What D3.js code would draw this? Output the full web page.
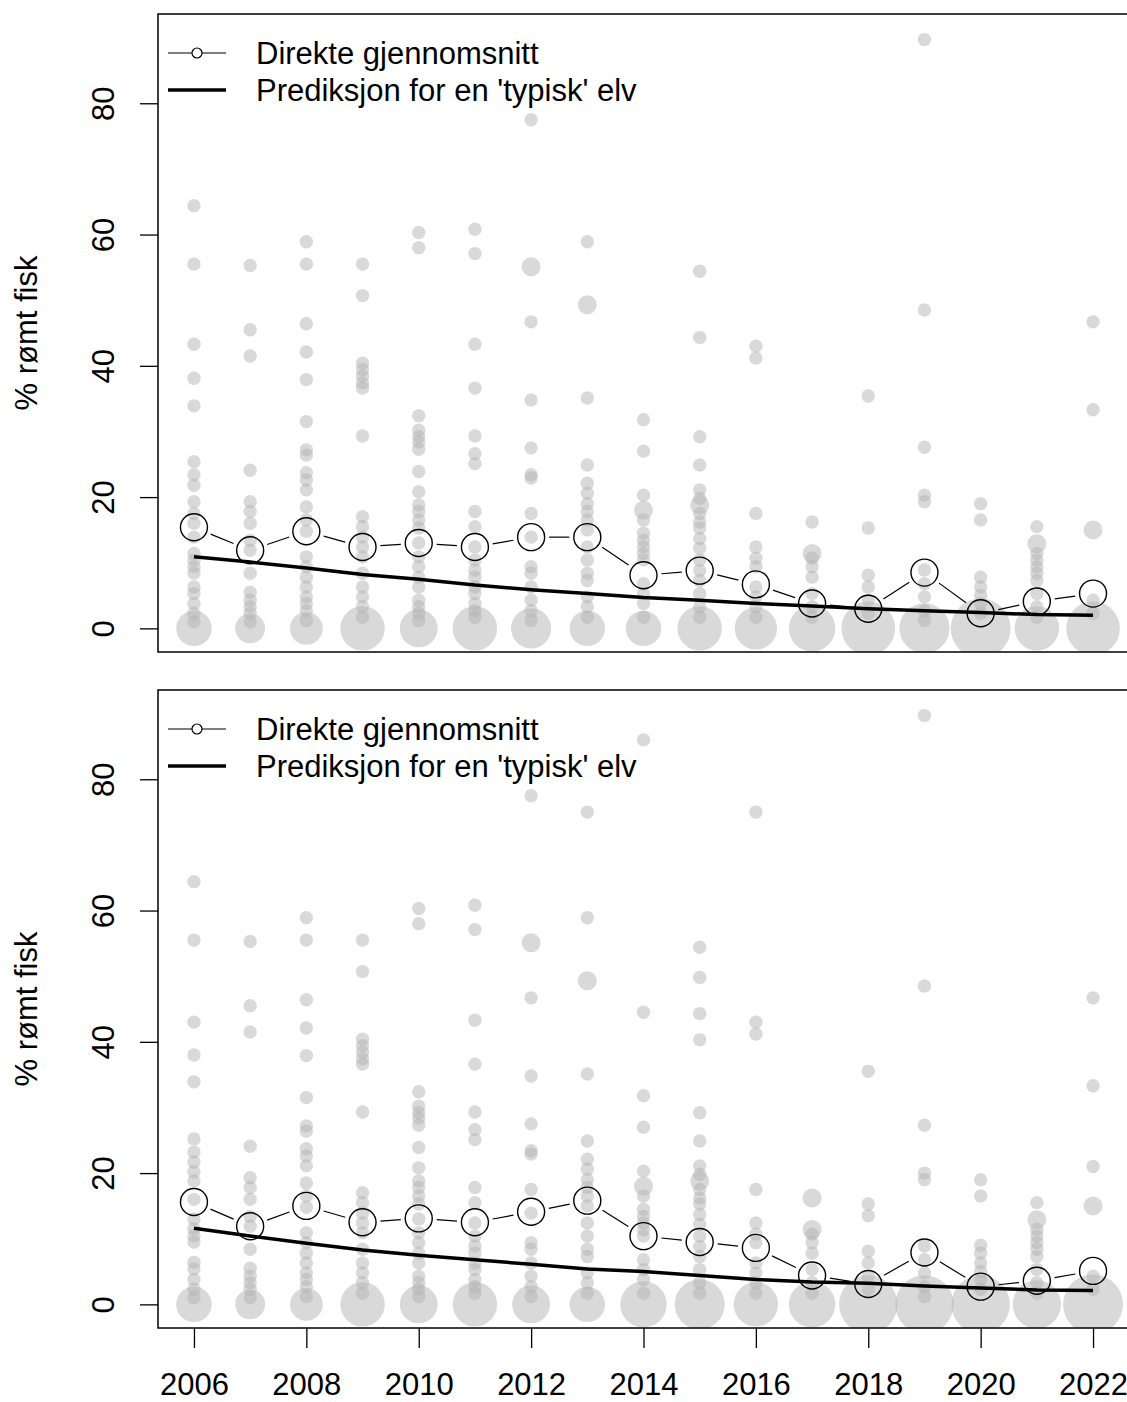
<!DOCTYPE html>
<html>
<head>
<meta charset="utf-8">
<script src="https://cdn.jsdelivr.net/npm/d3@7"></script>
<style>
  body { margin: 0; background: #fff; }
  text { font-family: "Liberation Sans", Arial, sans-serif; fill: #000; }
</style>
</head>
<body>
<div id="chart"></div>
<script>
// ---- data ----
var years = [2006, 2007, 2008, 2009, 2010, 2011, 2012, 2013, 2014, 2015, 2016, 2017, 2018, 2019, 2020, 2021, 2022];
var xTicks = [2006, 2008, 2010, 2012, 2014, 2016, 2018, 2020, 2022];
var yTicks = [0, 20, 40, 60, 80];
var yLabel = "% rømt fisk";
var legendLabels = ["Direkte gjennomsnitt", "Prediksjon for en 'typisk' elv"];

// top panel
var topMean = [15.4, 11.9, 14.8, 12.4, 13.0, 12.4, 13.9, 13.9, 8.1, 8.8, 6.7, 3.8, 3.0, 8.5, 2.3, 4.1, 5.3];
var topPred = [10.9, 10.1, 9.2, 8.2, 7.5, 6.6, 5.9, 5.3, 4.7, 4.3, 3.8, 3.4, 3.0, 2.7, 2.4, 2.1, 2.0];
var topZeros = [7, 5, 6, 11, 8, 11, 9, 7, 7, 11, 10, 12, 16, 14, 20, 11, 16];
var topObs = [
  [64.4, 55.5, 43.3, 38.1, 33.9, 25.4, 23.4, 21.8, 19.3, 17.5, 16.0, 13.9, 11.4, 10.4, 9.4, 8.4, 6.3, 5.3, 3.8, 2.3, 1.0],
  [55.3, 45.5, 41.5, 24.1, 19.3, 17.8, 16.0, 13.4, 11.9, 8.4, 5.5, 4.3, 3.3, 2.3, 1.0],
  [58.9, 55.5, 46.4, 42.1, 37.9, 31.5, 27.2, 26.4, 23.7, 22.6, 21.1, 18.5, 16.5, 14.8, 10.9, 9.4, 7.8, 6.3, 4.8, 3.8, 2.7, 1.2],
  [55.5, 50.7, 40.4, 39.4, 38.4, 37.4, 36.6, 29.3, 17.0, 15.5, 13.9, 12.4, 10.9, 8.4, 6.3, 4.8, 3.3, 1.7],
  [60.3, 58.0, 32.4, 30.2, 29.2, 28.4, 27.3, 23.9, 20.8, 18.8, 17.8, 16.5, 15.3, 13.0, 10.9, 9.4, 7.8, 6.3, 4.3, 3.3, 2.3, 1.2],
  [60.8, 57.1, 43.3, 36.6, 29.3, 26.6, 25.1, 17.8, 15.5, 12.4, 10.4, 8.9, 7.8, 6.3, 5.3, 3.8, 2.7, 1.7],
  [77.5, 55.1, 55.1, 46.7, 34.8, 27.5, 23.4, 22.9, 17.5, 13.9, 9.4, 8.4, 6.3, 4.3, 2.7, 1.2],
  [58.9, 49.3, 49.3, 35.1, 24.9, 22.1, 20.6, 19.0, 17.8, 16.5, 15.0, 12.4, 10.4, 8.4, 7.3, 4.8, 3.3, 1.7],
  [31.8, 27.0, 20.3, 18.0, 18.0, 16.5, 14.5, 13.4, 12.4, 11.4, 10.4, 6.8, 5.3, 3.8, 1.7],
  [54.4, 44.3, 29.2, 24.9, 21.1, 19.8, 18.8, 18.8, 17.5, 16.2, 15.3, 13.7, 12.2, 10.4, 8.8, 7.3, 5.3, 3.3, 1.7],
  [43.0, 41.2, 17.5, 12.4, 10.7, 9.4, 6.3, 4.8, 3.3, 1.7],
  [16.2, 11.4, 11.4, 10.7, 9.4, 7.8, 5.3, 3.3, 1.7],
  [35.4, 15.3, 8.1, 6.3, 4.3, 2.3],
  [89.7, 48.5, 27.6, 20.3, 19.3, 8.9, 6.8, 4.8, 2.7, 1.2],
  [19.0, 16.5, 7.8, 6.3, 5.0, 3.8, 2.3],
  [15.5, 12.9, 12.9, 11.4, 10.4, 9.4, 8.4, 7.3, 5.3, 3.3, 1.7],
  [46.7, 33.3, 15.0, 15.0, 4.3, 2.3]
];

// bottom panel
var botMean = [15.6, 11.9, 15.0, 12.5, 13.1, 12.5, 14.1, 15.8, 10.4, 9.5, 8.6, 4.4, 3.1, 7.9, 2.7, 3.6, 5.1];
var botPred = [11.6, 10.4, 9.3, 8.3, 7.5, 6.8, 6.1, 5.4, 5.0, 4.4, 3.8, 3.4, 3.2, 2.8, 2.5, 2.2, 2.1];
var botZeros = [7, 5, 6, 11, 8, 11, 8, 7, 12, 14, 11, 12, 19, 19, 19, 13, 20];
var botObs = [
  [64.4, 55.5, 43.0, 38.0, 33.9, 25.2, 23.2, 21.7, 20.2, 18.8, 16.0, 13.0, 11.5, 10.4, 9.5, 6.4, 5.4, 3.8, 2.3, 1.0],
  [55.3, 45.5, 41.5, 24.1, 19.3, 17.8, 16.0, 13.4, 11.9, 8.4, 5.5, 4.3, 3.3, 2.3, 1.0],
  [58.9, 55.5, 46.4, 42.1, 37.9, 31.5, 27.2, 26.4, 23.7, 22.6, 21.1, 18.5, 16.5, 14.8, 10.9, 9.4, 7.8, 6.3, 4.8, 3.8, 2.7, 1.2],
  [55.5, 50.7, 40.4, 39.4, 38.4, 37.4, 36.6, 29.3, 17.0, 15.5, 13.9, 12.4, 10.9, 8.4, 6.3, 4.8, 3.3, 1.7],
  [60.3, 58.0, 32.4, 30.2, 29.2, 28.4, 27.3, 23.9, 20.8, 18.8, 17.8, 16.5, 15.3, 13.0, 10.9, 9.4, 7.8, 6.3, 4.3, 3.3, 2.3, 1.2],
  [60.8, 57.1, 43.3, 36.6, 29.3, 26.6, 25.1, 17.8, 15.5, 12.4, 10.4, 8.9, 7.8, 6.3, 5.3, 3.8, 2.7, 1.7],
  [77.5, 55.1, 55.1, 46.7, 34.8, 27.5, 23.4, 22.9, 17.5, 13.9, 9.4, 8.4, 6.3, 4.3, 2.7, 1.2],
  [75.0, 58.9, 49.3, 49.3, 35.1, 24.9, 22.1, 20.6, 19.0, 17.8, 16.5, 15.0, 12.4, 10.4, 8.4, 7.3, 4.8, 3.3, 1.7],
  [86.0, 44.5, 31.8, 27.0, 20.3, 18.0, 18.0, 16.5, 14.5, 13.4, 12.4, 11.4, 10.4, 6.8, 5.3, 3.8, 1.7],
  [54.4, 49.8, 44.3, 40.3, 29.2, 24.9, 21.1, 19.8, 18.8, 18.8, 17.5, 16.2, 15.3, 13.7, 12.2, 10.4, 8.8, 7.3, 5.3, 3.3, 1.7],
  [75.0, 43.0, 41.2, 17.5, 12.4, 10.7, 9.4, 6.3, 4.8, 3.3, 1.7],
  [16.2, 16.2, 11.4, 11.4, 10.7, 9.4, 7.8, 5.3, 3.3, 1.7],
  [35.5, 15.3, 13.5, 8.1, 6.3, 4.3, 2.3],
  [89.7, 48.5, 27.3, 20.0, 19.0, 8.9, 6.8, 4.8, 2.7, 1.2],
  [19.0, 16.5, 9.0, 7.8, 6.3, 5.0, 3.8, 2.3],
  [15.5, 12.9, 12.9, 11.4, 10.4, 9.4, 8.4, 7.3, 5.3, 3.3, 1.7],
  [46.7, 33.3, 21.0, 15.0, 15.0, 4.3, 2.3]
];

// ---- layout ----
var svgWidth = 1127;
var svgHeight = 1402;
var boxLeft = 158, boxRight = 1129;
var fontSize = 31;

var panels = [
  { top: 14, bottom: 652, mean: topMean, pred: topPred, zeros: topZeros, obs: topObs, xAxis: false },
  { top: 690, bottom: 1328, mean: botMean, pred: botPred, zeros: botZeros, obs: botObs, xAxis: true }
];

var svg = d3.select("#chart")
  .append("svg")
  .attr("width", svgWidth)
  .attr("height", svgHeight);

var x = d3.scaleLinear()
  .domain([2005.36, 2022.64])
  .range([boxLeft, boxRight]);

// point radius grows with number of rivers sharing the value
var rScale = d3.scaleSqrt().domain([0, 1]).range([0, 6.7]);

panels.forEach(function(p, i) {
  var y = d3.scaleLinear()
    .domain([-3.6, 93.6])
    .range([p.bottom, p.top]);

  svg.append("clipPath")
    .attr("id", "clip" + i)
    .append("rect")
    .attr("x", boxLeft)
    .attr("y", p.top)
    .attr("width", boxRight - boxLeft)
    .attr("height", p.bottom - p.top);

  // build river points per year
  var pts = [];
  years.forEach(function(yr, j) {
    pts.push({ year: yr, value: 0, n: p.zeros[j] });
    d3.rollups(p.obs[j], v => v.length, d => d).forEach(function(e) {
      pts.push({ year: yr, value: e[0], n: e[1] });
    });
  });

  var plot = svg.append("g").attr("clip-path", "url(#clip" + i + ")");

  plot.selectAll("circle.river")
    .data(pts)
    .enter()
    .append("circle")
    .attr("class", "river")
    .attr("cx", d => x(d.year))
    .attr("cy", d => y(d.value))
    .attr("r", d => rScale(d.n))
    .attr("fill", "rgb(180,180,180)")
    .attr("fill-opacity", 0.5);

  // prediction line
  var line = d3.line()
    .x((d, j) => x(years[j]))
    .y(d => y(d));

  plot.append("path")
    .datum(p.pred)
    .attr("d", line)
    .attr("fill", "none")
    .attr("stroke", "#000")
    .attr("stroke-width", 3.5);

  // direct means, type "b": segments with gaps round the points
  var gap = 18;
  for (var j = 0; j < years.length - 1; j++) {
    var x1 = x(years[j]), y1 = y(p.mean[j]);
    var x2 = x(years[j + 1]), y2 = y(p.mean[j + 1]);
    var dist = Math.hypot(x2 - x1, y2 - y1);
    if (dist <= 2 * gap) continue;
    var ux = (x2 - x1) / dist, uy = (y2 - y1) / dist;
    plot.append("line")
      .attr("x1", x1 + ux * gap).attr("y1", y1 + uy * gap)
      .attr("x2", x2 - ux * gap).attr("y2", y2 - uy * gap)
      .attr("stroke", "#000")
      .attr("stroke-width", 1.2);
  }

  plot.selectAll("circle.mean")
    .data(p.mean)
    .enter()
    .append("circle")
    .attr("class", "mean")
    .attr("cx", (d, j) => x(years[j]))
    .attr("cy", d => y(d))
    .attr("r", 13.5)
    .attr("fill", "none")
    .attr("stroke", "#000")
    .attr("stroke-width", 1.4);

  // box
  svg.append("rect")
    .attr("x", boxLeft)
    .attr("y", p.top)
    .attr("width", boxRight - boxLeft)
    .attr("height", p.bottom - p.top)
    .attr("fill", "none")
    .attr("stroke", "#000")
    .attr("stroke-width", 1.5);

  // y axis
  var leftAxis = d3.axisLeft(y).tickValues(yTicks).tickSize(18).tickFormat(d3.format("d"));
  var yAxis = svg.append("g")
    .attr("transform", `translate(${boxLeft}, 0)`)
    .call(leftAxis);
  yAxis.select(".domain").remove();
  yAxis.attr("font-size", fontSize).attr("font-family", null);
  yAxis.selectAll(".tick line").attr("stroke", "#000").attr("stroke-width", 1.3);
  yAxis.selectAll(".tick text")
    .attr("x", null)
    .attr("dy", null)
    .attr("text-anchor", "middle")
    .attr("transform", "translate(-44,0) rotate(-90)");

  // y label
  svg.append("text")
    .attr("transform", `translate(37, ${(p.top + p.bottom) / 2}) rotate(-90)`)
    .attr("text-anchor", "middle")
    .attr("font-size", fontSize)
    .text(yLabel);

  // legend
  var lg = svg.append("g").attr("transform", `translate(0, ${p.top})`);
  lg.append("line")
    .attr("x1", 168).attr("x2", 226).attr("y1", 39).attr("y2", 39)
    .attr("stroke", "#000").attr("stroke-width", 1.2);
  lg.append("circle")
    .attr("cx", 197).attr("cy", 39).attr("r", 5)
    .attr("fill", "#fff").attr("stroke", "#000").attr("stroke-width", 1.2);
  lg.append("line")
    .attr("x1", 168).attr("x2", 226).attr("y1", 76).attr("y2", 76)
    .attr("stroke", "#000").attr("stroke-width", 3.5);
  lg.selectAll("text")
    .data(legendLabels)
    .enter()
    .append("text")
    .attr("x", 256)
    .attr("y", (d, k) => 39 + k * 37)
    .attr("dy", "0.35em")
    .attr("font-size", fontSize)
    .text(d => d);

  // x axis only under the lower panel
  if (p.xAxis) {
    var bottomAxis = d3.axisBottom(x).tickValues(xTicks).tickSize(20).tickFormat(d3.format("d"));
    var xAxisG = svg.append("g")
      .attr("transform", `translate(0, ${p.bottom})`)
      .call(bottomAxis);
    xAxisG.select(".domain").remove();
    xAxisG.attr("font-size", fontSize).attr("font-family", null);
    xAxisG.selectAll(".tick line").attr("stroke", "#000").attr("stroke-width", 1.3);
    xAxisG.selectAll(".tick text")
      .attr("y", 67)
      .attr("dy", null);
  }
});
</script>
</body>
</html>
